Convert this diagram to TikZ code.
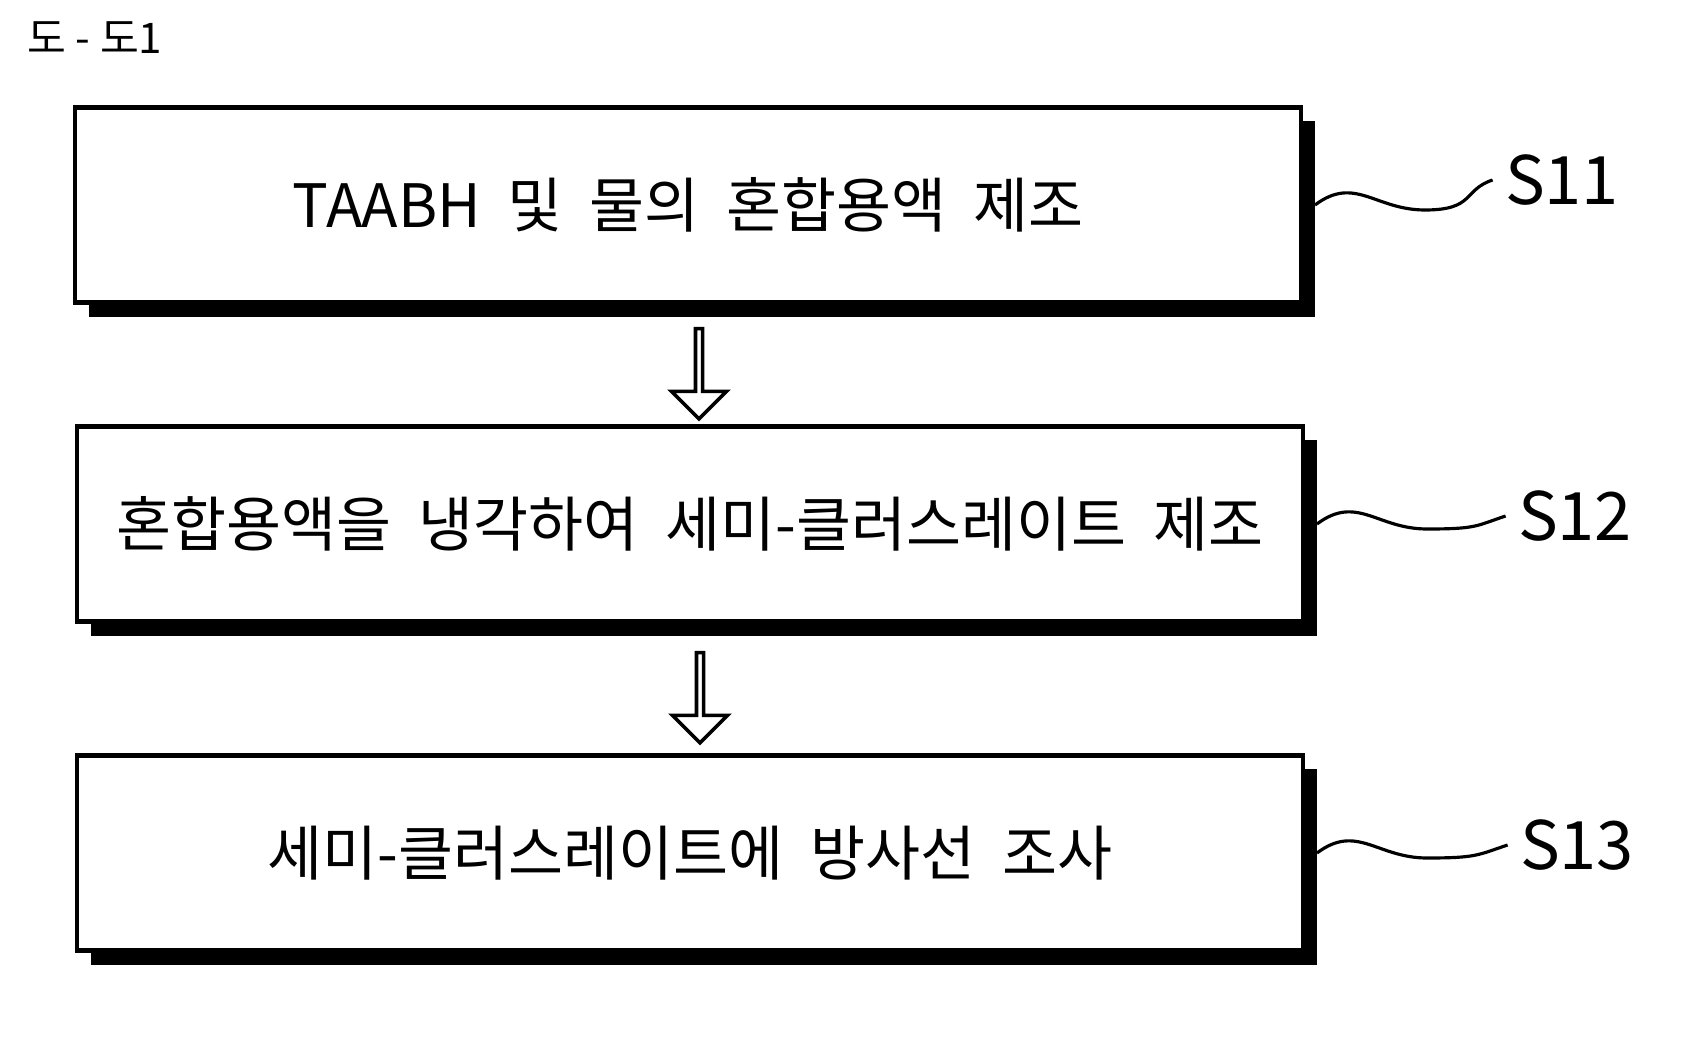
\documentclass[tikz,border=0pt]{standalone}
\usepackage{fontspec}
\newfontfamily\kr{Noto Sans CJK KR}
\usetikzlibrary{shapes.arrows,shadows}
\begin{document}
\begin{tikzpicture}[x=0.01cm,y=-0.01cm,
	stepbox/.style={draw,line width=1.2pt,fill=white,minimum width=12.25cm,minimum height=1.95cm,
		font=\kr\fontsize{17}{20}\selectfont,
		drop shadow={shadow xshift=0.14cm,shadow yshift=-0.14cm,opacity=1,fill=black}},
	down/.style={single arrow,draw,line width=1pt,fill=white,shape border rotate=270,
		minimum height=0.9cm,minimum width=0.55cm,single arrow head extend=0.12cm,inner sep=0pt},
	tag/.style={font=\kr\fontsize{19}{22}\selectfont}]
	\useasboundingbox (0,0) rectangle (1682,1040);
	%title
	\node[font=\kr\fontsize{12}{14}\selectfont] (title) at (95,38){도 - 도1};
	
	%steps
	\node[stepbox] (s11) at (688,205){TAABH\ \ 및\ \ 물의\ \ 혼합용액\ \ 제조};
	\node[stepbox] (s12) at (690,524){혼합용액을\ \ 냉각하여\ \ 세미-클러스레이트\ \ 제조};
	\node[stepbox] (s13) at (690,853){세미-클러스레이트에\ \ 방사선\ \ 조사};
	
	%arrows
	\node[down] (a1) at (699,372){};
	\node[down] (a2) at (700,696){};
	
	%labels
	\node[tag] (l11) at (1562,180){S11};
	\node[tag] (l12) at (1575,516){S12};
	\node[tag] (l13) at (1577,845){S13};
	\foreach \s in {11,12,13}{
		\draw[line width=0.9pt] (s\s.east) ++(12,0) coordinate (w\s)
			.. controls +(40,-30) and +(-50,0) .. ++(110,5)
			.. controls +(50,0) and +(-30,10) .. (l\s.west);
	}
\end{tikzpicture}
\end{document}
